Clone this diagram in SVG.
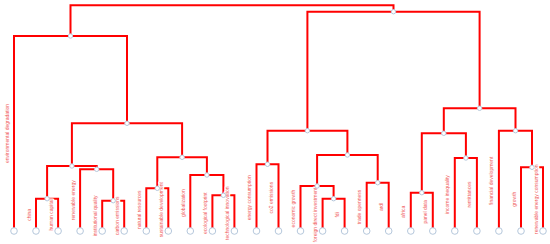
<svg xmlns="http://www.w3.org/2000/svg" width="550" height="244" viewBox="0 0 550 244">
<style>
.link{fill:none;stroke:#f00;stroke-width:2}
.lbl{font-family:"Liberation Sans",Arial,sans-serif;font-size:5px;fill:#f05a5a;text-anchor:middle;stroke:#fff;stroke-width:2.5px;paint-order:stroke;stroke-linejoin:round}
.leaf circle{fill:#fff;stroke:#b6c8dc;stroke-width:1}
.inner circle{fill:#fff;stroke:#b6c8dc;stroke-width:1}
</style>
<rect width="550" height="244" fill="#fff"/>
<g id="connectors">
<path class="link" d="M232,5.3H70.5V36"/>
<path class="link" d="M232,5.3H393.5V11.7"/>
<path class="link" d="M70.5,36H14V231"/>
<path class="link" d="M70.5,36H127V123.3"/>
<path class="link" d="M127,123.3H71.9V166"/>
<path class="link" d="M127,123.3H182.1V157.3"/>
<path class="link" d="M71.9,166H47.1V198.7"/>
<path class="link" d="M71.9,166H96.7V169.3"/>
<path class="link" d="M47.1,198.7H36V231"/>
<path class="link" d="M47.1,198.7H58.1V231"/>
<path class="link" d="M96.7,169.3H80.1V231"/>
<path class="link" d="M96.7,169.3H113.2V200.7"/>
<path class="link" d="M113.2,200.7H102.2V231"/>
<path class="link" d="M113.2,200.7H124.2V231"/>
<path class="link" d="M182.1,157.3H157.3V188.3"/>
<path class="link" d="M182.1,157.3H206.9V175"/>
<path class="link" d="M157.3,188.3H146.3V231"/>
<path class="link" d="M157.3,188.3H168.3V231"/>
<path class="link" d="M206.9,175H190.3V231"/>
<path class="link" d="M206.9,175H223.4V195.3"/>
<path class="link" d="M223.4,195.3H212.4V231"/>
<path class="link" d="M223.4,195.3H234.4V231"/>
<path class="link" d="M393.5,11.7H307.4V130.7"/>
<path class="link" d="M393.5,11.7H479.6V108.3"/>
<path class="link" d="M307.4,130.7H267.5V164.3"/>
<path class="link" d="M307.4,130.7H347.4V155"/>
<path class="link" d="M267.5,164.3H256.5V231"/>
<path class="link" d="M267.5,164.3H278.5V231"/>
<path class="link" d="M347.4,155H317.1V186"/>
<path class="link" d="M347.4,155H377.7V182.7"/>
<path class="link" d="M317.1,186H300.5V231"/>
<path class="link" d="M317.1,186H333.6V198.7"/>
<path class="link" d="M333.6,198.7H322.6V231"/>
<path class="link" d="M333.6,198.7H344.6V231"/>
<path class="link" d="M377.7,182.7H366.7V231"/>
<path class="link" d="M377.7,182.7H388.7V231"/>
<path class="link" d="M479.6,108.3H443.8V133.3"/>
<path class="link" d="M479.6,108.3H515.5V130.7"/>
<path class="link" d="M443.8,133.3H421.8V192.7"/>
<path class="link" d="M443.8,133.3H465.9V158"/>
<path class="link" d="M421.8,192.7H410.8V231"/>
<path class="link" d="M421.8,192.7H432.8V231"/>
<path class="link" d="M465.9,158H454.8V231"/>
<path class="link" d="M465.9,158H476.9V231"/>
<path class="link" d="M515.5,130.7H498.9V231"/>
<path class="link" d="M515.5,130.7H532V167.3"/>
<path class="link" d="M532,167.3H521V231"/>
<path class="link" d="M532,167.3H543V231"/>
</g>
<g id="labels">
<text class="lbl" transform="translate(8.5,133.5) rotate(-90)">environmental degradation</text>
<text class="lbl" transform="translate(30.5,214.9) rotate(-90)">china</text>
<text class="lbl" transform="translate(52.6,214.9) rotate(-90)">human capital</text>
<text class="lbl" transform="translate(74.6,200.2) rotate(-90)">renewable energy</text>
<text class="lbl" transform="translate(96.7,215.9) rotate(-90)">institutional quality</text>
<text class="lbl" transform="translate(118.7,215.9) rotate(-90)">carbon emissions</text>
<text class="lbl" transform="translate(140.8,209.7) rotate(-90)">natural resources</text>
<text class="lbl" transform="translate(162.8,209.7) rotate(-90)">sustainable development</text>
<text class="lbl" transform="translate(184.8,203) rotate(-90)">globalization</text>
<text class="lbl" transform="translate(206.9,213.2) rotate(-90)">ecological footprint</text>
<text class="lbl" transform="translate(228.9,213.2) rotate(-90)">technological innovation</text>
<text class="lbl" transform="translate(251,197.7) rotate(-90)">energy consumption</text>
<text class="lbl" transform="translate(273,197.7) rotate(-90)">co2 emissions</text>
<text class="lbl" transform="translate(295,208.5) rotate(-90)">economic growth</text>
<text class="lbl" transform="translate(317.1,214.9) rotate(-90)">foreign direct investment</text>
<text class="lbl" transform="translate(339.1,214.9) rotate(-90)">fdi</text>
<text class="lbl" transform="translate(361.2,206.9) rotate(-90)">trade openness</text>
<text class="lbl" transform="translate(383.2,206.9) rotate(-90)">ardl</text>
<text class="lbl" transform="translate(405.3,211.9) rotate(-90)">africa</text>
<text class="lbl" transform="translate(427.3,211.9) rotate(-90)">panel data</text>
<text class="lbl" transform="translate(449.3,194.5) rotate(-90)">income inequality</text>
<text class="lbl" transform="translate(471.4,194.5) rotate(-90)">remittances</text>
<text class="lbl" transform="translate(493.4,180.9) rotate(-90)">financial development</text>
<text class="lbl" transform="translate(515.5,199.2) rotate(-90)">growth</text>
<text class="lbl" transform="translate(537.5,199.2) rotate(-90)">renewable energy consumption</text>
</g>
<g class="inner">
<g id="n-A"><circle cx="70.5" cy="36" r="2.2"/></g>
<g id="n-R"><circle cx="393.5" cy="11.7" r="2.2"/></g>
<g id="n-B"><circle cx="127" cy="123.3" r="2.2"/></g>
<g id="n-C"><circle cx="71.9" cy="166" r="2.2"/></g>
<g id="n-D"><circle cx="182.1" cy="157.3" r="2.2"/></g>
<g id="n-E"><circle cx="47.1" cy="198.7" r="2.2"/></g>
<g id="n-F"><circle cx="96.7" cy="169.3" r="2.2"/></g>
<g id="n-G"><circle cx="113.2" cy="200.7" r="2.2"/></g>
<g id="n-H"><circle cx="157.3" cy="188.3" r="2.2"/></g>
<g id="n-I"><circle cx="206.9" cy="175" r="2.2"/></g>
<g id="n-J"><circle cx="223.4" cy="195.3" r="2.2"/></g>
<g id="n-K"><circle cx="307.4" cy="130.7" r="2.2"/></g>
<g id="n-M"><circle cx="267.5" cy="164.3" r="2.2"/></g>
<g id="n-N"><circle cx="347.4" cy="155" r="2.2"/></g>
<g id="n-O"><circle cx="317.1" cy="186" r="2.2"/></g>
<g id="n-P"><circle cx="377.7" cy="182.7" r="2.2"/></g>
<g id="n-Q"><circle cx="333.6" cy="198.7" r="2.2"/></g>
<g id="n-L"><circle cx="479.6" cy="108.3" r="2.2"/></g>
<g id="n-S"><circle cx="443.8" cy="133.3" r="2.2"/></g>
<g id="n-T"><circle cx="515.5" cy="130.7" r="2.2"/></g>
<g id="n-U"><circle cx="421.8" cy="192.7" r="2.2"/></g>
<g id="n-V"><circle cx="465.9" cy="158" r="2.2"/></g>
<g id="n-W"><circle cx="532" cy="167.3" r="2.2"/></g>
</g>
<g class="leaf">
<g id="leaf-environmental-degradation"><circle cx="14" cy="231" r="3.3"/></g>
<g id="leaf-china"><circle cx="36" cy="231" r="3.3"/></g>
<g id="leaf-human-capital"><circle cx="58.1" cy="231" r="3.3"/></g>
<g id="leaf-renewable-energy"><circle cx="80.1" cy="231" r="3.3"/></g>
<g id="leaf-institutional-quality"><circle cx="102.2" cy="231" r="3.3"/></g>
<g id="leaf-carbon-emissions"><circle cx="124.2" cy="231" r="3.3"/></g>
<g id="leaf-natural-resources"><circle cx="146.3" cy="231" r="3.3"/></g>
<g id="leaf-sustainable-development"><circle cx="168.3" cy="231" r="3.3"/></g>
<g id="leaf-globalization"><circle cx="190.3" cy="231" r="3.3"/></g>
<g id="leaf-ecological-footprint"><circle cx="212.4" cy="231" r="3.3"/></g>
<g id="leaf-technological-innovation"><circle cx="234.4" cy="231" r="3.3"/></g>
<g id="leaf-energy-consumption"><circle cx="256.5" cy="231" r="3.3"/></g>
<g id="leaf-co2-emissions"><circle cx="278.5" cy="231" r="3.3"/></g>
<g id="leaf-economic-growth"><circle cx="300.5" cy="231" r="3.3"/></g>
<g id="leaf-foreign-direct-investment"><circle cx="322.6" cy="231" r="3.3"/></g>
<g id="leaf-fdi"><circle cx="344.6" cy="231" r="3.3"/></g>
<g id="leaf-trade-openness"><circle cx="366.7" cy="231" r="3.3"/></g>
<g id="leaf-ardl"><circle cx="388.7" cy="231" r="3.3"/></g>
<g id="leaf-africa"><circle cx="410.8" cy="231" r="3.3"/></g>
<g id="leaf-panel-data"><circle cx="432.8" cy="231" r="3.3"/></g>
<g id="leaf-income-inequality"><circle cx="454.8" cy="231" r="3.3"/></g>
<g id="leaf-remittances"><circle cx="476.9" cy="231" r="3.3"/></g>
<g id="leaf-financial-development"><circle cx="498.9" cy="231" r="3.3"/></g>
<g id="leaf-growth"><circle cx="521" cy="231" r="3.3"/></g>
<g id="leaf-renewable-energy-consumption"><circle cx="543" cy="231" r="3.3"/></g>
</g>
</svg>
